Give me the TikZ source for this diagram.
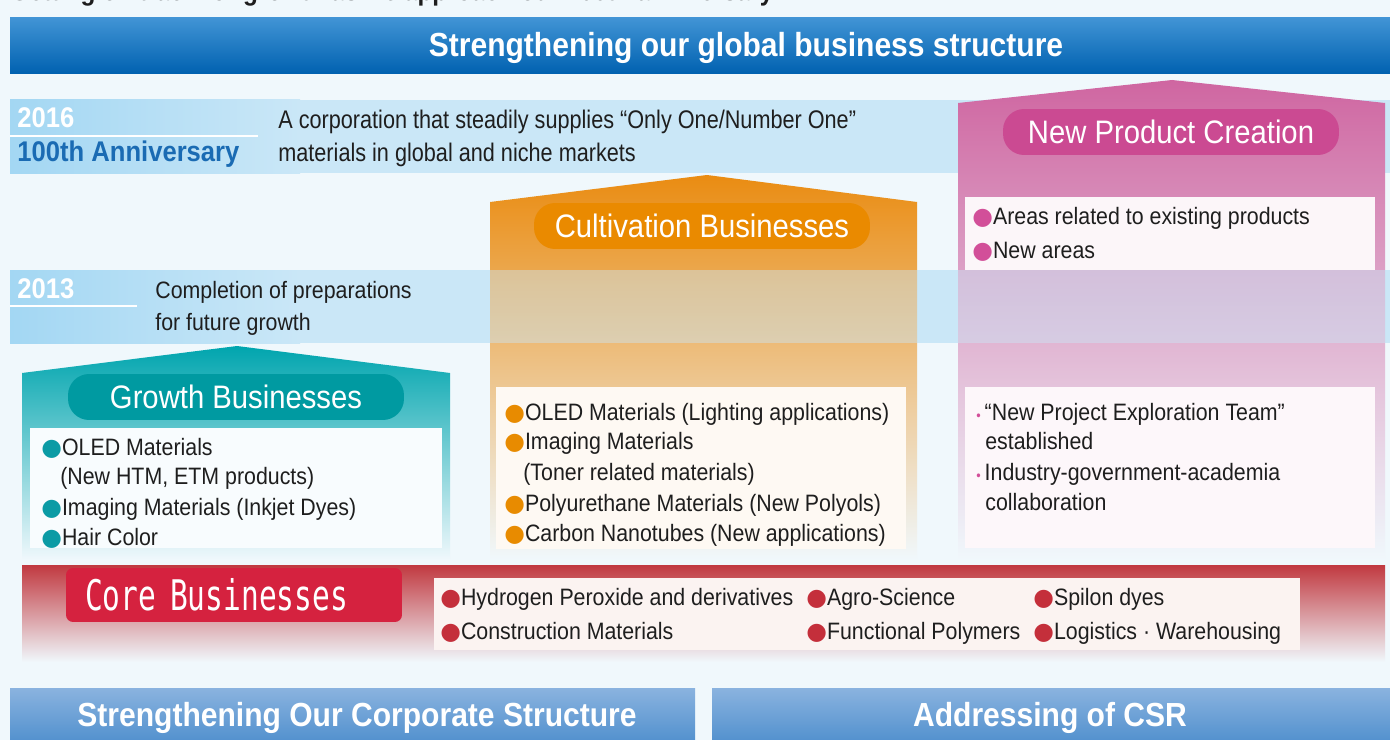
\documentclass[tikz,border=0pt]{standalone}
\usepackage{fontspec}
\setmainfont{Liberation Sans}[FakeStretch=0.9]
\newfontfamily\dotfont{DejaVu Sans}
\newfontfamily\corefont{DejaVu Sans Mono}[FakeStretch=0.7]

\definecolor{bgpale}{HTML}{F0F8FC}
\definecolor{textdark}{HTML}{1E1E1E}
\definecolor{hdrtop}{HTML}{4194D5}
\definecolor{hdrbot}{HTML}{0061B0}
\definecolor{bandblue}{HTML}{CAE7F7}
\definecolor{bandleft}{HTML}{A3D7F3}
\definecolor{annivblue}{HTML}{1A6BB3}
\definecolor{growthteal}{HTML}{00A5AE}
\definecolor{growthpill}{HTML}{009AA1}
\definecolor{growthdot}{HTML}{0B9BA5}
\definecolor{cultorange}{HTML}{EA8C12}
\definecolor{cultpill}{HTML}{EA8A00}
\definecolor{cultdot}{HTML}{E88B00}
\definecolor{newpink}{HTML}{CF66A1}
\definecolor{newpill}{HTML}{CB4A92}
\definecolor{newdot}{HTML}{D24F99}
\definecolor{corered}{HTML}{C13940}
\definecolor{corebox}{HTML}{D5223F}
\definecolor{coredot}{HTML}{C42F3B}
\definecolor{coreitems}{HTML}{FBF3F1}
\definecolor{bartop}{HTML}{8AB3DF}
\definecolor{barbot}{HTML}{3F85C8}

\newcommand{\bul}[1]{{\dotfont\textcolor{#1}{●}}}
\newcommand{\smallbul}{{\fontsize{8}{8}\selectfont\textcolor{newdot}{•}}\,}

\tikzset{
	item/.style={anchor=base west,inner sep=0pt,text=textdark,font=\fontsize{13.5}{16}\selectfont},
	lead/.style={item,font=\addfontfeatures{FakeStretch=0.85}\fontsize{14.5}{18}\selectfont},
	year/.style={anchor=base west,inner sep=0pt,text=white,font=\bfseries\fontsize{16.2}{18}\selectfont},
	pill/.style={rounded corners=12pt,inner sep=0pt,text=white,minimum width=6.72cm,minimum height=0.92cm,font=\fontsize{18.5}{20}\selectfont},
	banner/.style={inner sep=0pt,text=white,font=\bfseries\fontsize{19}{21}\selectfont},
}

\begin{document}
\begin{tikzpicture}[x=0.02cm,y=-0.02cm]
	\useasboundingbox (0,0) rectangle (1390,740);
	\clip (0,0) rectangle (1390,740);
	\fill[bgpale] (0,0) rectangle (1390,740);
	\node[anchor=base west,inner sep=0pt,text=textdark,font=\bfseries\fontsize{15.4}{17}\selectfont] (title) at (10,1) {Getting on track for growth as we approach our 100th anniversary};
	% header bar
	\shade[top color=hdrtop,bottom color=hdrbot] (10,18) rectangle (1390,74);
	\node[banner] (global) at (746,48) {Strengthening our global business structure};
	% milestone bands
	\fill[bandblue] (10,100) rectangle (1390,173);
	\shade[left color=bandleft,right color=bandblue] (10,100) rectangle (300,173);
	\draw[white,line width=1.6pt] (10,136) -- (258,136);
	\fill[bandblue] (10,270) rectangle (1390,343);
	\shade[left color=bandleft,right color=bandblue] (10,270) rectangle (300,343);
	\draw[white,line width=1.6pt] (10,306) -- (137,306);
	% the three houses
	\shade[top color=growthteal,middle color=growthteal!35!bgpale,bottom color=bgpale] (22,560) -- (22,373) -- (237,346) -- (450,373) -- (450,560) -- cycle;
	\shade[top color=cultorange,middle color=cultorange!30!bgpale,bottom color=bgpale] (490,560) -- (490,202) -- (707,175) -- (917,202) -- (917,560) -- cycle;
	\shade[top color=newpink,middle color=newpink!35!bgpale,bottom color=bgpale] (958,560) -- (958,103) -- (1172,80) -- (1385,103) -- (1385,560) -- cycle;
	\fill[bandblue,fill opacity=0.45] (490,270) rectangle (1390,343);
	\fill[white!55!bgpale] (30,428) rectangle (442,548);
	\fill[cultorange!5!white] (496,387) rectangle (906,549);
	\fill[newpink!6!white] (965,197) rectangle (1375,270);
	\fill[newpink!5!white] (965,387) rectangle (1375,548);
	% core band
	\shade[top color=corered,middle color=corered!22!bgpale,bottom color=bgpale] (22,565) rectangle (1385,662);
	\fill[coreitems] (434,578) rectangle (1300,650);
	% bottom bars
	\shade[top color=bartop,bottom color=barbot] (10,688) rectangle (695,760);
	\shade[top color=bartop,bottom color=barbot] (712,688) rectangle (1390,760);
	\node[banner] (corp) at (357,718) {Strengthening Our Corporate Structure};
	\node[banner] (csr) at (1050,718) {Addressing of CSR};
	% years
	\node[year] (y16) at (17,128) {2016};
	\node[year,text=annivblue] (anniv) at (17,161) {100th Anniversary};
	\node[year] (y13) at (17,298) {2013};
	\node[lead] (d16a) at (278,129) {A corporation that steadily supplies “Only One/Number One”};
	\node[lead] (d16b) at (278,161) {materials in global and niche markets};
	\node[item] (d13a) at (155,298) {Completion of preparations};
	\node[item] (d13b) at (155,330) {for future growth};
	% pills
	\node[pill,fill=growthpill] (growth) at (236,397) {Growth Businesses};
	\node[pill,fill=cultpill] (cult) at (702,226) {Cultivation Businesses};
	\node[pill,fill=newpill] (newprod) at (1171,132) {New Product Creation};
	% growth items
	\node[item] (g1) at (41,455) {\bul{growthdot}OLED Materials};
	\node[item] (g1b) at (60,484) {(New HTM, ETM products)};
	\node[item] (g2) at (41,515) {\bul{growthdot}Imaging Materials (Inkjet Dyes)};
	\node[item] (g3) at (41,545) {\bul{growthdot}Hair Color};
	% cultivation items
	\node[item] (c1) at (504,420) {\bul{cultdot}OLED Materials (Lighting applications)};
	\node[item] (c2) at (504,449) {\bul{cultdot}Imaging Materials};
	\node[item] (c2b) at (523,480) {(Toner related materials)};
	\node[item] (c3) at (504,511) {\bul{cultdot}Polyurethane Materials (New Polyols)};
	\node[item] (c4) at (504,541) {\bul{cultdot}Carbon Nanotubes (New applications)};
	% new product items
	\node[item] (n1) at (972,224) {\bul{newdot}Areas related to existing products};
	\node[item] (n2) at (972,258) {\bul{newdot}New areas};
	\node[item] (n3) at (976,420) {\smallbul“New Project Exploration Team”};
	\node[item] (n3b) at (985,449) {established};
	\node[item] (n4) at (976,480) {\smallbul Industry-government-academia};
	\node[item] (n4b) at (985,510) {collaboration};
	% core businesses
	\node[fill=corebox,rounded corners=4pt,minimum height=1.08cm,text width=5.96cm,inner xsep=0.38cm,align=left,text=white,font=\corefont\fontsize{24}{26}\selectfont] (core) at (234,595) {Core Businesses};
	\node[item] (k1) at (440,605) {\bul{coredot}Hydrogen Peroxide and derivatives};
	\node[item] (k2) at (806,605) {\bul{coredot}Agro-Science};
	\node[item] (k3) at (1033,605) {\bul{coredot}Spilon dyes};
	\node[item] (k4) at (440,639) {\bul{coredot}Construction Materials};
	\node[item] (k5) at (806,639) {\bul{coredot}Functional Polymers};
	\node[item] (k6) at (1033,639) {\bul{coredot}Logistics · Warehousing};
\end{tikzpicture}
\end{document}
